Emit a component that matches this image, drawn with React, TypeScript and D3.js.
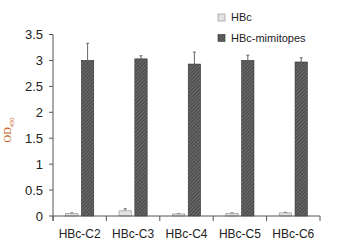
import React from "react";
import * as d3 from "d3";

const categories = ["HBc-C2", "HBc-C3", "HBc-C4", "HBc-C5", "HBc-C6"];
const seriesNames = ["HBc", "HBc-mimitopes"];
const hbcValues = [0.05, 0.1, 0.04, 0.05, 0.06];
const hbcErrors = [0.01, 0.04, 0.005, 0.01, 0.01];
const mimValues = [3.0, 3.03, 2.93, 3.0, 2.97];
const mimErrors = [0.33, 0.06, 0.23, 0.1, 0.08];
const yTicks = [0, 0.5, 1, 1.5, 2, 2.5, 3, 3.5];

const W = 337;
const H = 245;
const FONT = "Liberation Sans, Arial, Helvetica, sans-serif";

export default function App() {
  const x = d3.scaleBand<string>().domain(categories).range([53, 320]).padding(0);
  const inner = d3
    .scaleBand<string>()
    .domain(seriesNames)
    .range([0, x.bandwidth()])
    .paddingInner(0.22)
    .paddingOuter(0.8);
  const y = d3.scaleLinear().domain([0, 3.5]).range([216, 34.5]);
  const axisColor = "#555";

  const series = [
    { name: seriesNames[0], values: hbcValues, errors: hbcErrors, fill: "#e2e2e2", stroke: "#8a8a8a" },
    { name: seriesNames[1], values: mimValues, errors: mimErrors, fill: "url(#hatch)", stroke: "#333" },
  ];

  const boundaries = [...categories.map((c) => x(c)!), x.range()[1]];

  return (
    <svg
      width={W}
      height={H}
      style={{ position: "absolute", left: 0, top: 0, background: "#fff" }}
      fontFamily={FONT}
    >
      <defs>
        <pattern id="hatch" patternUnits="userSpaceOnUse" width="2.5" height="2.5" patternTransform="rotate(45)">
          <rect width="2.5" height="2.5" fill="#4f4f4f" />
          <line x1="0" y1="0" x2="0" y2="2.5" stroke="#909090" strokeWidth="0.9" />
        </pattern>
      </defs>

      {/* bars */}
      {series.map((s) =>
        categories.map((c, i) => {
          const bx = x(c)! + inner(s.name)!;
          const bw = inner.bandwidth();
          const top = y(s.values[i]);
          const errTop = y(s.values[i] + s.errors[i]);
          const cx = bx + bw / 2;
          return (
            <g key={s.name + c}>
              <line x1={cx} x2={cx} y1={top} y2={errTop} stroke="#666" strokeWidth={1} />
              <line x1={cx - 1.5} x2={cx + 1.5} y1={errTop} y2={errTop} stroke="#666" strokeWidth={1} />
              <rect
                x={bx}
                y={top}
                width={bw}
                height={y(0) - top}
                fill={s.fill}
                stroke={s.stroke}
                strokeWidth={0.6}
              />
            </g>
          );
        })
      )}

      {/* y axis */}
      <line x1={53} x2={53} y1={y(3.5)} y2={y(0) + 5} stroke={axisColor} strokeWidth={1} />
      {yTicks.map((t) => (
        <g key={t}>
          <line x1={49} x2={53} y1={y(t)} y2={y(t)} stroke={axisColor} strokeWidth={1} />
          <text x={43} y={y(t)} dy="0.35em" textAnchor="end" fontSize={13} fill="#222">
            {String(t)}
          </text>
        </g>
      ))}

      {/* x axis */}
      <line x1={53} x2={320} y1={y(0)} y2={y(0)} stroke={axisColor} strokeWidth={1} />
      {boundaries.map((b, i) => (
        <line key={i} x1={b} x2={b} y1={y(0)} y2={y(0) + 5} stroke={axisColor} strokeWidth={1} />
      ))}
      {categories.map((c) => (
        <text key={c} x={x(c)! + x.bandwidth() / 2} y={238} textAnchor="middle" fontSize={12} fill="#222">
          {c}
        </text>
      ))}

      {/* y label */}
      <text
        transform="translate(11,130) rotate(-90)"
        textAnchor="middle"
        fontFamily="Liberation Serif, Times New Roman, serif"
        fontSize={10.5}
        fill="#c8641e"
      >
        OD
        <tspan fontSize={6.5} dy={3}>
          450
        </tspan>
      </text>

      {/* legend */}
      {series.map((s, i) => (
        <g key={s.name} transform={`translate(218, ${14 + i * 20.5})`}>
          <rect x={0} y={0} width={7} height={7} fill={s.fill} stroke={s.stroke} strokeWidth={0.6} />
          <text x={13} y={7} fontSize={11} fill="#222">
            {s.name}
          </text>
        </g>
      ))}
    </svg>
  );
}
